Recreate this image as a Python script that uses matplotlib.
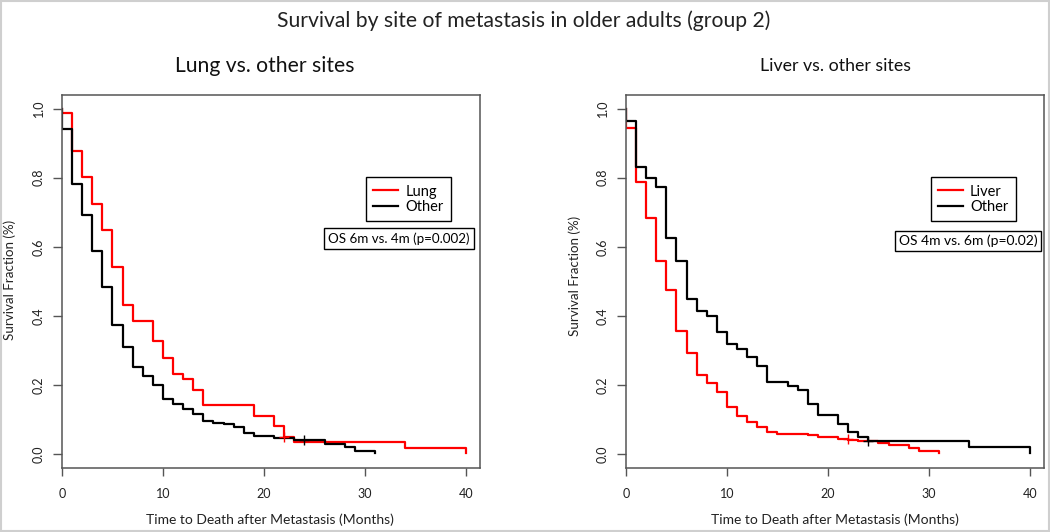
import matplotlib
matplotlib.use("Agg")
import matplotlib.pyplot as plt
from matplotlib.patches import Rectangle

plt.rcParams['font.family'] = ['Lato', 'DejaVu Sans']

# Kaplan-Meier steps (months, survival fraction)
lung_t = [0, 0, 1, 2, 3, 4, 5, 6, 7, 9, 10, 11, 12, 13, 14, 19, 21, 22, 23, 34, 40]
lung_s = [1.0, 0.987, 0.878, 0.801, 0.723, 0.648, 0.541, 0.433, 0.387, 0.328, 0.280,
          0.233, 0.218, 0.187, 0.142, 0.110, 0.082, 0.050, 0.036, 0.019, 0.003]
oth1_t = [0, 0, 1, 2, 3, 4, 5, 6, 7, 8, 9, 10, 11, 12, 13, 14, 15, 16, 17, 18, 19,
          21, 23, 26, 28, 29, 31]
oth1_s = [1.0, 0.940, 0.782, 0.693, 0.589, 0.483, 0.375, 0.310, 0.253, 0.227, 0.202,
          0.159, 0.145, 0.130, 0.116, 0.097, 0.091, 0.087, 0.078, 0.063, 0.053,
          0.049, 0.041, 0.031, 0.022, 0.010, 0.005]

liver_t = [0, 0, 1, 2, 3, 4, 5, 6, 7, 8, 9, 10, 11, 12, 13, 14, 15, 18, 19, 21, 22,
           23, 25, 26, 28, 29, 31]
liver_s = [1.0, 0.945, 0.789, 0.684, 0.560, 0.476, 0.356, 0.292, 0.229, 0.206, 0.181,
           0.136, 0.110, 0.094, 0.078, 0.065, 0.060, 0.055, 0.050, 0.046, 0.041,
           0.038, 0.033, 0.027, 0.019, 0.010, 0.003]
oth2_t = [0, 0, 1, 2, 3, 4, 5, 6, 7, 8, 9, 10, 11, 12, 13, 14, 16, 17, 18, 19, 21,
          22, 23, 24, 34, 40]
oth2_s = [1.0, 0.965, 0.830, 0.798, 0.772, 0.625, 0.558, 0.448, 0.414, 0.401, 0.353,
          0.318, 0.306, 0.281, 0.255, 0.209, 0.198, 0.185, 0.147, 0.113, 0.089,
          0.065, 0.050, 0.039, 0.022, 0.004]

# censored observations
cens1 = [(22, 0.050, "red"), (24, 0.041, "black")]
cens2 = [(22, 0.046, "red"), (24, 0.039, "black")]

xticks = [0, 10, 20, 30, 40]
yticks = [0.0, 0.2, 0.4, 0.6, 0.8, 1.0]

W, H = 1050, 532
fig = plt.figure(figsize=(W / 100, H / 100), dpi=100)


def fx(x):
    return x / W


def fy(y):
    return 1 - y / H


def panel(left, curves, cens, ostext, leg_xy, os_xy, os_size):
    ax = fig.add_axes([fx(left), fy(468.3), 418 / W, (468.3 - 94.7) / H])
    for t, s, c, lab in curves:
        ax.step(t, s, where="post", color=c, lw=1.6, label=lab)
    for t, s, c in cens:
        ax.plot(t, s, marker="+", ms=7, mew=1.0, color=c, ls="none")
    ax.set_xlim(0, 41.4)
    ax.set_ylim(-0.04, 1.04)
    ax.set_xticks(xticks)
    ax.set_yticks(yticks)
    ax.set_yticklabels(["%.1f" % v for v in yticks], rotation=90, va="center")
    for sp in ax.spines.values():
        sp.set_color("#555555")
        sp.set_linewidth(1.1)
    ax.tick_params(axis="both", direction="out", color="#555555", width=1.0,
                   labelsize=9, labelcolor="#222222")
    ax.tick_params(axis="y", length=6.5, pad=6)
    ax.tick_params(axis="x", length=5.5, pad=8.5)
    leg = ax.legend(loc="upper left", bbox_to_anchor=(fx(leg_xy[0]), fy(leg_xy[1])),
                    bbox_transform=fig.transFigure, borderaxespad=0, fancybox=False,
                    framealpha=1, edgecolor="black", fontsize=10.5, handlelength=1.7,
                    handletextpad=0.5, labelspacing=0.1, borderpad=0.5)
    leg.get_frame().set_linewidth(1.0)
    fig.text(fx(os_xy[0]), fy(os_xy[1]), ostext, ha="center", va="center",
             fontsize=os_size,
             bbox=dict(boxstyle="square,pad=0.3", fc="white", ec="black", lw=1.0))
    return ax


ax1 = panel(62, [(lung_t, lung_s, "red", "Lung"), (oth1_t, oth1_s, "black", "Other")],
            cens1, "OS 6m vs. 4m (p=0.002)", (366, 177.3), (399, 238.7), 9.6)
ax2 = panel(626, [(liver_t, liver_s, "red", "Liver"), (oth2_t, oth2_s, "black", "Other")],
            cens2, "OS 4m vs. 6m (p=0.02)", (930.7, 177.3), (968, 241), 10)

fig.text(fx(524), fy(21), "Survival by site of metastasis in older adults (group 2)",
         ha="center", va="center", fontsize=15.2, color="#222222")
fig.text(fx(265), fy(66), "Lung vs. other sites", ha="center", va="center",
         fontsize=15.2, color="#111111")
fig.text(fx(836), fy(66), "Liver vs. other sites", ha="center", va="center",
         fontsize=12.8, color="#111111")
for xc in (270, 835):
    fig.text(fx(xc), fy(520), "Time to Death after Metastasis (Months)", ha="center",
             va="center", fontsize=10, color="#222222")
for xc, yc in ((10, 280), (575, 276)):
    fig.text(fx(xc), fy(yc), "Survival Fraction (%)", ha="center", va="center",
             rotation=90, fontsize=9.6, color="#222222")

fig.patches.append(Rectangle((0.001, 0.002), 0.998, 0.996, transform=fig.transFigure,
                             fill=False, ec="#cfcfcf", lw=1.5))

plt.savefig("out.png", dpi=100)
